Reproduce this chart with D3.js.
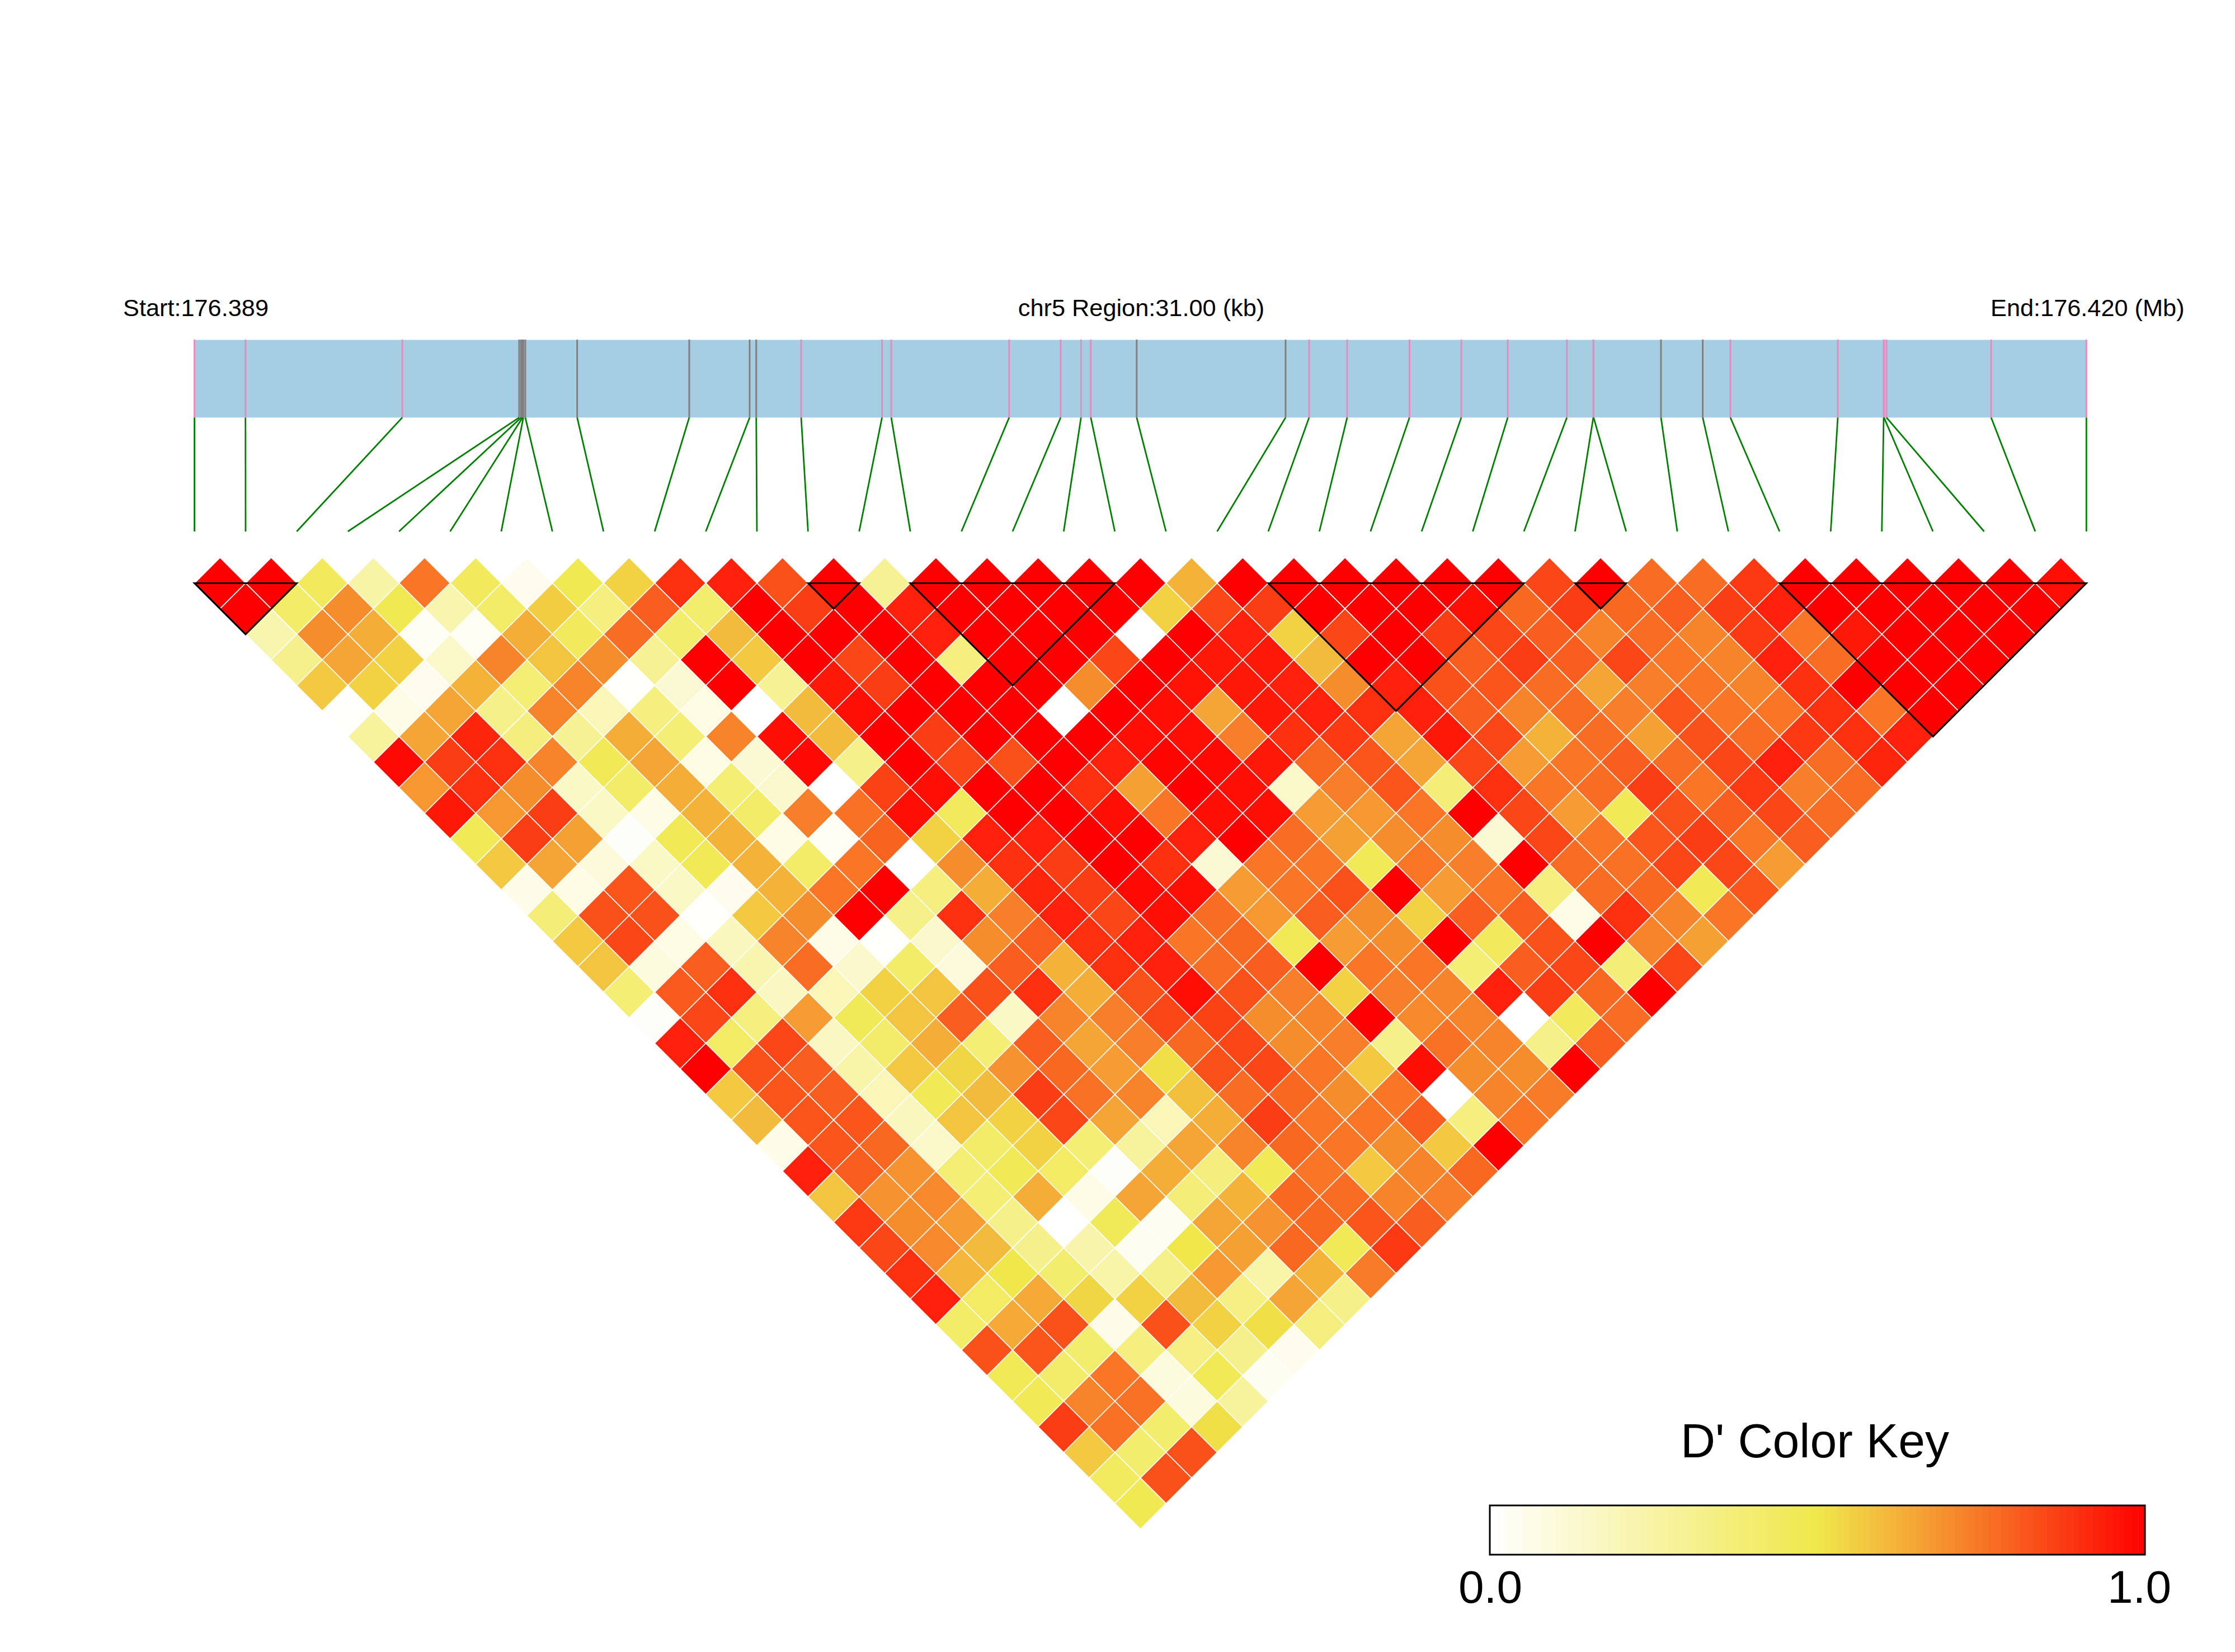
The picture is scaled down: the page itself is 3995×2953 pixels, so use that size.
<!DOCTYPE html>
<html lang="en">
  <head>
    <meta charset="utf-8">
    <title>D' LD heatmap chr5</title>
    <style>
      body { margin: 0; background: #fff; }
      text { font-family: "Liberation Sans", Arial, sans-serif; fill: #000; }
    </style>
  </head>
  <body>
    <script src="https://cdn.jsdelivr.net/npm/d3@7"></script>
    <script>
      // SNP positions in kb from the region start, in order
      const snpKb = [0,0.836,3.405,5.32,5.352,5.376,5.389,5.421,6.271,8.107,9.097,9.205,9.941,11.266,11.417,13.349,14.193,14.527,14.687,15.439,17.879,18.264,18.888,19.909,20.758,21.519,22.488,22.921,22.926,24.03,24.714,25.167,26.927,27.679,27.684,27.725,29.44,31];
      // which SNPs get the grey tick, the rest are pink
      const greySnps = [3,4,5,6,7,8,9,10,11,19,20,29,30];
      // LD blocks as [first snp, last snp]
      const blocks = [[0,2],[12,13],[14,18],[21,26],[27,28],[31,37]];

      // D' per diagonal: rowN holds the pairs (k, k+N)
      const row1 = [1,1,.45,.25,.75,.45,.05,.48,.55,.9,.93,.83,1,.3,1,1,1,1,1,.62,1,1,1,1,1,1,.85,1,.77,.77,.88,1,1,1,1,1,.97];
      const row2 = [1,.42,.7,.48,.22,.42,.56,.35,.8,.4,1,.87,1,.93,1,1,1,1,.55,.85,.87,1,1,1,.97,.78,.87,.78,.8,.87,.93,1,1,1,1,1];
      const row3 = [.22,.7,.63,.03,.03,.63,.45,.77,.4,.6,1,1,1,.93,1,1,1,0,1,.93,.55,.85,1,.87,.85,.8,.72,.77,.72,.88,.75,.95,1,1,1];
      const row4 = [.32,.65,.55,.15,.72,.58,.7,.3,1,.57,1,.85,1,.35,1,1,.85,1,.95,.95,.6,1,1,.8,.87,.8,.85,.75,.72,.93,.77,1,1,1];
      const row5 = [.57,.55,.05,.62,.38,.72,.01,.12,1,.3,.95,.87,1,1,1,.7,1,.96,.95,.93,.7,.93,.83,.82,.77,.65,.73,.75,.72,.9,1,1,1];
      const row6 = [.01,.07,.65,.33,.72,.2,.35,.08,0,.6,.97,1,1,1,0,1,.97,.65,.95,.93,.9,.93,.8,.72,.77,.73,.82,.75,.75,.9,.75,1];
      const row7 = [.27,.65,.92,.36,.3,.63,.38,.72,.97,.6,1,.87,1,1,1,.97,.97,.73,.9,.88,.65,.95,.85,.62,.77,.66,.83,.77,.88,.9,.93];
      const row8 = [.98,.87,.9,.72,.47,.65,.08,.12,.98,.33,1,.85,.83,1,.93,.99,.98,.95,.78,.82,.65,.85,.67,.75,.8,.77,.85,.93,.77,.92];
      const row9 = [.68,.9,.7,.16,.42,.63,.38,.14,0,.86,.97,1,1,.9,.66,1,.97,.15,.73,.82,.37,.9,.75,.77,.87,.75,.88,.73,.77];
      const row10 = [.95,.68,.87,.16,.07,.62,.42,.73,.76,.97,.45,1,1,.97,.75,.97,.97,.67,.68,.75,1,.85,.67,.47,.83,.8,.85,.77];
      const row11 = [.47,.87,.66,.02,.47,.62,.08,.03,.79,.55,.93,.93,1,1,.93,1,.77,.66,.7,.7,.12,.85,.75,.82,.87,.75,.8];
      const row12 = [.57,.65,.1,.16,.47,.62,.42,.75,0,.7,.9,.87,1,.9,.12,.75,.75,.47,.75,.73,1,.77,.76,.85,.85,.67];
      const row13 = [.06,.08,.82,.16,.05,.62,.75,1,.35,.63,.92,.87,.98,.97,.67,.75,.83,1,.67,.75,.35,.77,.78,.47,.82];
      const row14 = [.37,.83,.83,.01,.57,.7,1,.33,.9,.73,.93,.85,.97,.77,.68,.8,.7,.55,.8,.8,.07,.9,.72,.75];
      const row15 = [.57,.85,.08,.18,.72,.07,.01,.14,.7,.8,.9,.93,.75,.78,.47,.67,.7,1,.45,.83,1,.72,.66];
      const row16 = [.58,.09,.8,.22,.77,.14,.42,.1,.8,.62,.9,.93,.77,.8,1,.75,.75,.38,.8,.85,.37,.85];
      const row17 = [.38,.81,.9,.17,.2,.55,.58,.83,.9,.63,.83,.97,.83,.73,.55,.73,.72,.93,.87,.78,1];
      const row18 = [.02,.85,.35,.67,.46,.58,.8,.16,.72,.73,.85,.86,.7,.72,1,.71,.72,0,.45,.77];
      const row19 = [.93,.43,.85,.17,.41,.63,.38,.8,.65,.73,.78,.85,.7,.73,.33,.76,.72,.33,.8];
      const row20 = [1,.83,.8,.24,.57,.54,.69,.78,.67,.52,.83,.85,.75,.57,.97,.7,.7,1];
      const row21 = [.57,.82,.8,.2,.47,.6,.87,.76,.72,.59,.77,.78,.7,.75,0,.72,.74];
      const row22 = [.6,.82,.82,.18,.58,.55,.85,.65,.2,.63,.87,.75,.75,.8,.35,.75];
      const row23 = [.06,.82,.78,.15,.42,.55,.38,.27,.65,.72,.78,.75,.7,.57,1];
      const row24 = [.93,.8,.69,.38,.47,.43,.02,.63,.36,.47,.75,.57,.72,.78];
      const row25 = [.58,.69,.71,.38,.63,.07,.65,.37,.62,.78,.77,.72,.73];
      const row26 = [.88,.7,.67,.33,0,.46,.04,.65,.69,.78,.82,.8];
      const row27 = [.85,.71,.6,.32,.23,.04,.5,.66,.78,.47,.88];
      const row28 = [.9,.61,.5,.4,.24,.33,.68,.24,.62,.74];
      const row29 = [.93,.43,.64,.54,.55,.6,.34,.65,.33];
      const row30 = [.42,.64,.83,.06,.83,.55,.52,.35];
      const row31 = [.83,.82,.4,.35,.34,.32,.05];
      const row32 = [.47,.41,.75,.09,.47,.04];
      const row33 = [.47,.72,.76,.09,.27];
      const row34 = [.87,.76,.4,.52];
      const row35 = [.57,.4,.83];
      const row36 = [.44,.83];
      const row37 = [.48];
      const rows = [row1,row2,row3,row4,row5,row6,row7,row8,row9,row10,row11,row12,row13,row14,row15,row16,row17,row18,row19,row20,row21,row22,row23,row24,row25,row26,row27,row28,row29,row30,row31,row32,row33,row34,row35,row36,row37];

      const width = 3995, height = 2953;
      const x0 = 347.6, x1 = 3729.3;

      const xKb = d3.scaleLinear([0, 31], [x0, x1]);
      const xSnp = d3.scaleLinear([0, 37], [x0, x1]);
      const yRow = d3.scaleLinear([1, 37], [1042.4, 2687.6]);
      const color = d3.scaleLinear([0, .5, .65, 1], ["#ffffff", "#f0e84a", "#f5a535", "#ff0000"]);

      const halfW = (xSnp(1) - xSnp(0)) / 2;
      const halfH = yRow(2) - yRow(1);

      const svg = d3.select("body").append("svg")
        .attr("width", width)
        .attr("height", height)
        .attr("viewBox", [0, 0, width, height])
        .style("display", "block");

      // header labels
      svg.append("text").attr("x", 220).attr("y", 565).attr("font-size", 43.3).text("Start:176.389");
      svg.append("text").attr("x", 2040).attr("y", 565).attr("font-size", 43.3).attr("text-anchor", "middle").text("chr5 Region:31.00 (kb)");
      svg.append("text").attr("x", 3558).attr("y", 565).attr("font-size", 43.3).text("End:176.420 (Mb)");

      // region bar with SNP ticks
      svg.append("rect")
        .attr("x", x0).attr("y", 607.6)
        .attr("width", x1 - x0).attr("height", 138.8)
        .attr("fill", "#a6cee3");

      svg.append("g").selectAll("line")
        .data(snpKb)
        .join("line")
        .attr("x1", d => xKb(d)).attr("x2", d => xKb(d))
        .attr("y1", 607).attr("y2", 746.4)
        .attr("stroke", (d, i) => greySnps.includes(i) ? "#808080" : "#e78ac3")
        .attr("stroke-width", 3);

      // links from bar to the heatmap columns
      svg.append("g").selectAll("line")
        .data(snpKb)
        .join("line")
        .attr("x1", d => xKb(d)).attr("y1", 746.4)
        .attr("x2", (d, i) => xSnp(i)).attr("y2", 950)
        .attr("stroke", "#008000")
        .attr("stroke-width", 2.8);

      // heatmap cells
      const cells = rows.flatMap((vals, r) => vals.map((v, k) => ({i: k, j: k + r + 1, v: v})));

      svg.append("g").selectAll("path")
        .data(cells)
        .join("path")
        .attr("d", c => {
          const cx = (xSnp(c.i) + xSnp(c.j)) / 2, cy = yRow(c.j - c.i);
          return `M${cx},${cy - halfH}L${cx + halfW},${cy}L${cx},${cy + halfH}L${cx - halfW},${cy}Z`;
        })
        .attr("fill", c => color(c.v))
        .attr("stroke", "#fff")
        .attr("stroke-width", 1.6);

      // block outlines
      svg.append("g").selectAll("path")
        .data(blocks)
        .join("path")
        .attr("d", b => {
          const a = xSnp(b[0]), z = xSnp(b[1]), y = yRow(1);
          return `M${a},${y}L${z},${y}L${(a + z) / 2},${yRow(1 + b[1] - b[0])}Z`;
        })
        .attr("fill", "none")
        .attr("stroke", "#000")
        .attr("stroke-width", 3);

      // color key
      const keyX = d3.scaleLinear([0, 1], [2663, 3834]);
      const steps = d3.range(0, 100).map(d => d / 100);
      svg.append("g").selectAll("rect")
        .data(steps)
        .join("rect")
        .attr("x", d => keyX(d)).attr("y", 2691)
        .attr("width", keyX(.01) - keyX(0) + .5).attr("height", 88)
        .attr("fill", d => color(d + .005));
      svg.append("rect")
        .attr("x", keyX(0)).attr("y", 2691)
        .attr("width", keyX(1) - keyX(0)).attr("height", 88)
        .attr("fill", "none").attr("stroke", "#000").attr("stroke-width", 3);

      svg.append("text").attr("x", 3244).attr("y", 2605).attr("font-size", 86).attr("text-anchor", "middle").text("D' Color Key");
      svg.append("text").attr("x", 2664).attr("y", 2865).attr("font-size", 82).attr("text-anchor", "middle").text("0.0");
      svg.append("text").attr("x", 3824).attr("y", 2865).attr("font-size", 82).attr("text-anchor", "middle").text("1.0");
    </script>
  </body>
</html>
